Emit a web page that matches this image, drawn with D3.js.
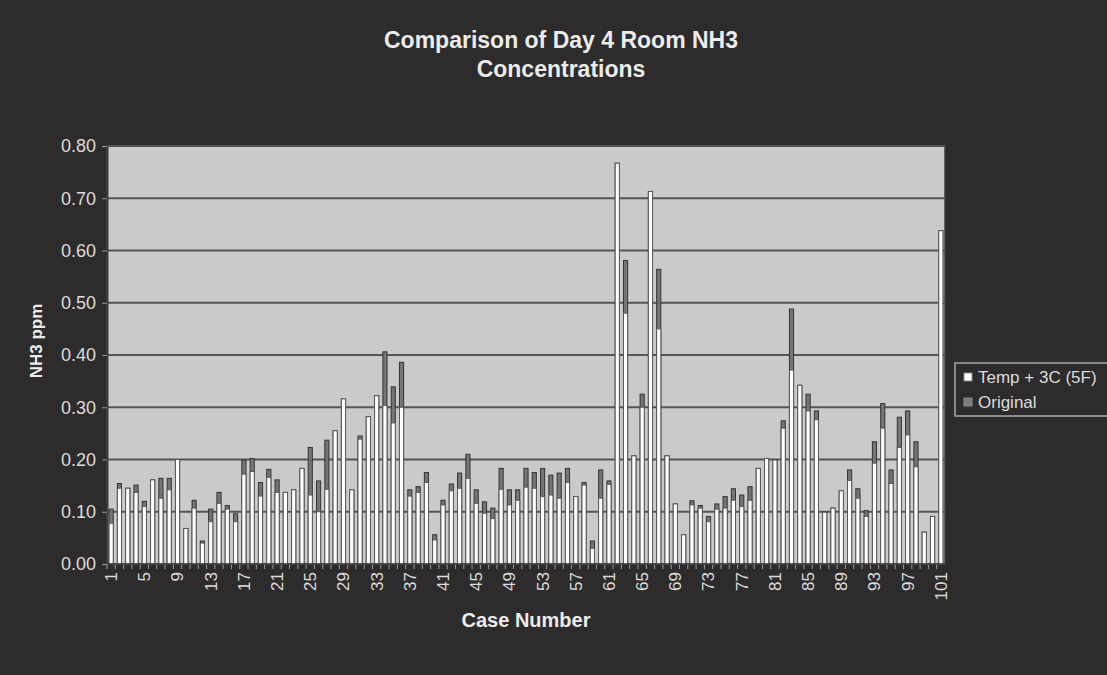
<!DOCTYPE html>
<html>
<head>
<meta charset="utf-8">
<script src="https://cdn.jsdelivr.net/npm/d3@7"></script>
<style>
    body { margin: 0; background: #2d2b2c; overflow: hidden; }
    #chart { width: 1107px; height: 675px; }
    text { font-family: "Liberation Sans", Arial, sans-serif; }
</style>
</head>
<body>
<div id="chart"></div>
<script>
// case numbers along the x axis
var cases = d3.range(1, 102);
var tickLabels = [1, 5, 9, 13, 17, 21, 25, 29, 33, 37, 41, 45, 49, 53, 57, 61, 65, 69, 73, 77, 81, 85, 89, 93, 97, 101];
var yTicks = [0, 0.1, 0.2, 0.3, 0.4, 0.5, 0.6, 0.7, 0.8];

// Temp + 3C (5F)
var temp = [0.078,0.145,0.145,0.137,0.110,0.161,0.126,0.142,0.200,0.068,
            0.107,0.040,0.081,0.116,0.105,0.081,0.172,0.177,0.130,0.166,
            0.137,0.137,0.142,0.183,0.132,0.100,0.143,0.255,0.316,0.142,
            0.239,0.282,0.322,0.303,0.270,0.300,0.130,0.137,0.156,0.046,
            0.113,0.140,0.145,0.164,0.116,0.097,0.087,0.143,0.113,0.122,
            0.147,0.145,0.129,0.132,0.126,0.156,0.129,0.151,0.030,0.126,
            0.152,0.767,0.480,0.207,0.300,0.713,0.450,0.207,0.115,0.056,
            0.113,0.107,0.081,0.105,0.107,0.122,0.110,0.122,0.183,0.202,
            0.199,0.260,0.371,0.342,0.293,0.276,0.099,0.107,0.140,0.160,
            0.126,0.091,0.193,0.260,0.154,0.223,0.247,0.186,0.061,0.091,
            0.638];

// Original
var original = [0.105,0.154,0.145,0.151,0.120,0.161,0.164,0.164,0.200,0.068,
                0.122,0.044,0.105,0.137,0.112,0.096,0.199,0.202,0.156,0.181,
                0.161,0.137,0.142,0.183,0.223,0.159,0.237,0.255,0.316,0.142,
                0.245,0.282,0.322,0.406,0.339,0.386,0.142,0.148,0.175,0.056,
                0.122,0.153,0.174,0.210,0.142,0.119,0.107,0.183,0.142,0.142,
                0.183,0.175,0.183,0.170,0.174,0.183,0.129,0.156,0.044,0.180,
                0.159,0.767,0.581,0.207,0.325,0.713,0.564,0.207,0.115,0.056,
                0.121,0.112,0.091,0.115,0.129,0.144,0.132,0.148,0.183,0.202,
                0.199,0.274,0.488,0.342,0.325,0.293,0.099,0.107,0.140,0.180,
                0.144,0.102,0.234,0.307,0.180,0.281,0.293,0.234,0.061,0.091,
                0.638];

var series = ["Temp + 3C (5F)", "Original"];

var data = cases.map(function(c, i) {
    return {num: c, temp: temp[i], original: original[i]};
});

var margin = {top: 146, right: 162, bottom: 111, left: 107},
    width = 1107 - margin.left - margin.right,
    height = 675 - margin.top - margin.bottom;

var root = d3.select("#chart")
    .append("svg")
        .attr("width", 1107)
        .attr("height", 675);

root.append("rect")
    .attr("width", 1107)
    .attr("height", 675)
    .style("fill", "#2d2b2c");

var svg = root.append("g")
    .attr("transform", "translate(" + margin.left + "," + margin.top + ")");

var x = d3.scaleBand()
    .domain(cases)
    .range([0, width])
    .paddingInner(0.5)
    .paddingOuter(0.25);

var y = d3.scaleLinear()
    .domain([0, 0.8])
    .range([height, 0]);

// plot area
svg.append("rect")
    .attr("width", width)
    .attr("height", height)
    .style("fill", "#c9cacc")
    .style("stroke", "#3c3c3c")
    .style("stroke-width", 1.5);

// gridlines
svg.append("g")
    .selectAll("line")
    .data(yTicks)
    .enter()
    .append("line")
        .attr("x1", 0)
        .attr("x2", width)
        .attr("y1", function(d) { return y(d); })
        .attr("y2", function(d) { return y(d); })
        .style("stroke", "#555")
        .style("stroke-width", 1.8);

// Original drawn behind, Temp in front
svg.selectAll(".bar-orig")
    .data(data)
    .enter()
    .append("rect")
        .attr("class", "bar-orig")
        .attr("x", function(d) { return x(d.num); })
        .attr("y", function(d) { return y(d.original); })
        .attr("width", x.bandwidth())
        .attr("height", function(d) { return height - y(d.original); })
        .style("fill", "#757575")
        .style("stroke", "#333")
        .style("stroke-width", 1);

svg.selectAll(".bar-temp")
    .data(data)
    .enter()
    .append("rect")
        .attr("class", "bar-temp")
        .attr("x", function(d) { return x(d.num); })
        .attr("y", function(d) { return y(d.temp); })
        .attr("width", x.bandwidth())
        .attr("height", function(d) { return height - y(d.temp); })
        .style("fill", "#ffffff")
        .style("stroke", "#5a5a5a")
        .style("stroke-width", 1);

// y axis
var yAxis = svg.append("g")
    .call(d3.axisLeft(y)
        .tickValues(yTicks)
        .tickFormat(d3.format(".2f"))
        .tickSize(5)
        .tickPadding(6));
yAxis.select(".domain").style("stroke", "#3c3c3c").style("stroke-width", 2);
yAxis.selectAll(".tick line").style("stroke", "#9a9a9a");
yAxis.selectAll("text")
    .style("font-size", "18px")
    .style("font-family", "Liberation Sans, Arial, sans-serif")
    .style("fill", "#dcdcdc");

// x axis: tick marks between categories, labels every 4th case
svg.append("g")
    .selectAll("line")
    .data(cases)
    .enter()
    .append("line")
        .attr("x1", function(d) { return x(d) - x.step() * 0.25; })
        .attr("x2", function(d) { return x(d) - x.step() * 0.25; })
        .attr("y1", height)
        .attr("y2", height + 5)
        .style("stroke", "#9a9a9a")
        .style("stroke-width", 1);

svg.append("line")
    .attr("x1", 0)
    .attr("x2", width)
    .attr("y1", height)
    .attr("y2", height)
    .style("stroke", "#3c3c3c")
    .style("stroke-width", 1.5);

svg.selectAll(".xlab")
    .data(tickLabels)
    .enter()
    .append("text")
        .attr("class", "xlab")
        .attr("transform", function(d) {
            return "translate(" + (x(d) + x.bandwidth() / 2) + "," + (height + 8) + ") rotate(-90)";
        })
        .attr("dy", "0.35em")
        .attr("text-anchor", "end")
        .style("font-size", "17px")
        .style("fill", "#dcdcdc")
        .text(function(d) { return d; });

// titles
root.append("text")
    .attr("x", 561)
    .attr("y", 48)
    .attr("text-anchor", "middle")
    .style("font-size", "23px")
    .style("font-weight", "bold")
    .style("fill", "#ececec")
    .text("Comparison of Day 4 Room NH3");

root.append("text")
    .attr("x", 561)
    .attr("y", 77)
    .attr("text-anchor", "middle")
    .style("font-size", "23px")
    .style("font-weight", "bold")
    .style("fill", "#ececec")
    .text("Concentrations");

root.append("text")
    .attr("x", margin.left + width / 2)
    .attr("y", 627)
    .attr("text-anchor", "middle")
    .style("font-size", "20px")
    .style("font-weight", "bold")
    .style("fill", "#ececec")
    .text("Case Number");

root.append("text")
    .attr("transform", "translate(42,341) rotate(-90)")
    .attr("text-anchor", "middle")
    .style("font-size", "17px")
    .style("font-weight", "bold")
    .style("fill", "#ececec")
    .text("NH3 ppm");

// legend
var legend = root.append("g")
    .attr("transform", "translate(955,363)");

legend.append("rect")
    .attr("width", 170)
    .attr("height", 53)
    .style("fill", "none")
    .style("stroke", "#a8a8a8")
    .style("stroke-width", 1.5);

var legendFill = ["#ffffff", "#7a7a7a"];
var item = legend.selectAll(".item")
    .data(series)
    .enter()
    .append("g")
        .attr("class", "item")
        .attr("transform", function(d, i) { return "translate(9," + (10 + i * 25) + ")"; });

item.append("rect")
    .attr("width", 8)
    .attr("height", 8)
    .style("fill", function(d, i) { return legendFill[i]; })
    .style("stroke", "#8a8a8a")
    .style("stroke-width", 1);

item.append("text")
    .attr("x", 14)
    .attr("y", 10)
    .style("font-size", "17px")
    .style("fill", "#dcdcdc")
    .text(function(d) { return d; });
</script>
</body>
</html>
